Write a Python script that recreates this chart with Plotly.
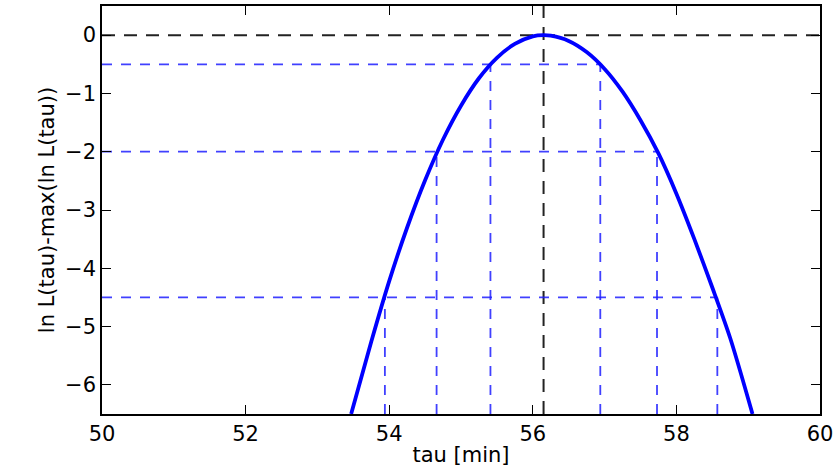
import plotly.graph_objects as go

# Log-likelihood curve (tau in min, ln L - max ln L)
curve_tau = [53.47, 53.75, 54.0, 54.25, 54.5, 54.75, 55.0, 55.25, 55.5,
             55.75, 56.0, 56.15, 56.25, 56.5, 56.75, 57.0, 57.25, 57.5, 57.75,
             58.0, 58.25, 58.5, 58.75, 59.06]
curve_lnl = [-6.5, -5.26, -4.22, -3.30, -2.49, -1.79, -1.21, -0.74, -0.39,
             -0.15, -0.02, 0.0, -0.01, -0.10, -0.29, -0.58, -0.97, -1.46, -2.03,
             -2.72, -3.50, -4.33, -5.20, -6.5]

tau_best = 56.15
levels = [-0.5, -2.0, -4.5]
left_cross = [55.41, 54.66, 53.94]
right_cross = [56.94, 57.73, 58.57]

x_range = [50, 60]
y_range = [-6.5, 0.5]
x_ticks = [50, 52, 54, 56, 58, 60]
y_ticks = [0, -1, -2, -3, -4, -5, -6]

BLUE = "#0000ff"
DBLUE = "rgba(30,30,255,0.85)"
BLACK = "#222222"
FONT = "DejaVu Sans"

fig = go.Figure()

# black dashed reference lines
fig.add_trace(go.Scatter(x=[x_range[0], x_range[1]], y=[0, 0], mode="lines",
                         line=dict(color=BLACK, width=2, dash="13px,9px"),
                         hoverinfo="skip", showlegend=False))
fig.add_trace(go.Scatter(x=[tau_best, tau_best], y=[y_range[0], y_range[1]], mode="lines",
                         line=dict(color=BLACK, width=2, dash="13px,9px"),
                         hoverinfo="skip", showlegend=False))

# blue dashed lines at confidence levels
for lev, xl, xr in zip(levels, left_cross, right_cross):
    fig.add_trace(go.Scatter(x=[x_range[0], xr], y=[lev, lev], mode="lines",
                             line=dict(color=DBLUE, width=1.8, dash="10px,9px"),
                             hoverinfo="skip", showlegend=False))
    for xv in (xl, xr):
        fig.add_trace(go.Scatter(x=[xv, xv], y=[y_range[0], lev], mode="lines",
                                 line=dict(color=DBLUE, width=1.8, dash="10px,9px"),
                                 hoverinfo="skip", showlegend=False))

# main curve
fig.add_trace(go.Scatter(x=curve_tau, y=curve_lnl, mode="lines",
                         line=dict(color=BLUE, width=3.8, shape="spline", smoothing=0.8),
                         showlegend=False))

axis_common = dict(showgrid=False, zeroline=False, showline=True, linecolor="black",
                   linewidth=1.6, mirror="ticks", ticks="inside", ticklen=9,
                   tickwidth=1.2, tickcolor="black",
                   tickfont=dict(family=FONT, size=21, color="black"))

fig.update_xaxes(range=x_range, tickvals=x_ticks, ticktext=[str(v) for v in x_ticks],
                 title=dict(text="tau [min]", font=dict(family=FONT, size=21, color="black"),
                            standoff=2),
                 **axis_common)
fig.update_yaxes(range=y_range, tickvals=y_ticks,
                 ticktext=["0" if v == 0 else "\u2212" + str(abs(v)) for v in y_ticks],
                 title=dict(text="ln L(tau)-max(ln L(tau))",
                            font=dict(family=FONT, size=21, color="black"), standoff=5),
                 **axis_common)

fig.update_layout(width=839, height=469, margin=dict(l=102, r=19, t=4, b=55),
                  paper_bgcolor="white", plot_bgcolor="white",
                  font=dict(family=FONT))

fig.write_html("out.html")
